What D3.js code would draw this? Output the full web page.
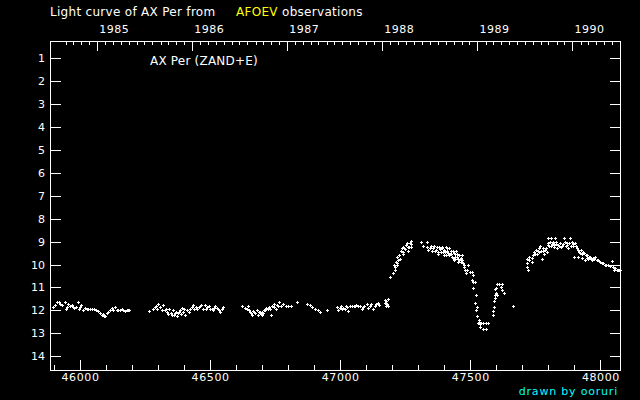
<!DOCTYPE html>
<html><head><meta charset="utf-8">
<script src="https://cdn.jsdelivr.net/npm/d3@7"></script>
<style>html,body{margin:0;padding:0;background:#000;} svg{display:block;}</style>
</head><body><svg id="c" width="640" height="400"></svg>
<script>
const titleParts = ["Light curve of AX Per from", "AFOEV", "observations"];
const starLabel = "AX Per (ZAND+E)";
const credit = "drawn by ooruri";
const jdTicks = [46000, 46500, 47000, 47500, 48000];
const magTicks = [1,2,3,4,5,6,7,8,9,10,11,12,13,14];
const years = [1985,1986,1987,1988,1989,1990];
// [JD-2400000, visual magnitude]
const observations = [
[45897,11.85],[45910,11.63],[45920,11.63],[45930,11.77],[45942,11.63],[45946,11.92],[45955,11.70],[45968,11.77],[45974,11.85],[45985,11.85],
[45994,11.63],[45997,11.92],[46003,11.77],[46010,11.99],[46019,11.89],[46032,11.95],[46038,11.92],[46045,11.95],[46054,11.95],[46070,12.03],
[46077,12.13],[46083,12.21],[46096,12.24],[46103,12.13],[46109,12.06],[46115,11.99],[46122,11.89],[46135,11.85],[46141,11.99],[46154,11.99],
[46166,11.99],[46179,11.99],[46189,11.99],
[45905,11.77],[45925,11.70],[45950,11.85],[45960,11.80],[45978,11.90],[46000,11.85],[46025,11.92],[46060,11.99],[46088,12.15],[46092,12.25],
[46126,12.00],[46147,11.99],[46160,11.95],[46172,12.01],[46184,11.99],
[46266,12.03],[46282,11.92],[46292,11.80],[46301,11.70],[46307,11.85],[46314,11.99],[46320,11.77],[46330,11.92],[46336,12.06],[46343,11.92],
[46348,12.13],[46356,11.99],[46361,12.21],[46369,12.06],[46378,12.13],[46384,11.99],[46391,11.89],[46397,12.06],[46404,12.21],[46412,11.99],
[46423,11.92],[46429,11.85],[46435,11.77],[46446,11.85],[46451,11.92],[46461,11.80],[46471,11.92],[46480,11.77],[46489,11.85],[46497,11.80],
[46506,11.92],[46512,11.99],[46519,11.80],[46525,11.89],[46531,11.92],[46538,12.06],[46545,11.92],[46551,11.85],
[46288,11.85],[46296,11.95],[46325,12.00],[46340,12.15],[46352,12.20],[46365,12.10],[46374,12.25],[46380,12.05],[46388,12.15],[46400,11.95],
[46418,12.05],[46440,11.95],[46456,11.85],[46466,11.75],[46485,11.92],[46500,11.95],[46515,11.90],[46535,11.99],
[46621,11.80],[46634,11.89],[46644,11.80],[46649,11.99],[46657,12.13],[46666,12.03],[46673,12.13],[46679,11.99],[46685,12.18],[46692,12.09],
[46698,12.21],[46704,12.13],[46708,11.99],[46714,11.89],[46721,11.92],[46730,11.95],[46734,12.18],[46739,11.80],[46747,11.70],[46752,11.92],
[46760,11.80],[46765,11.63],[46772,11.80],[46781,11.74],[46791,11.80],[46801,11.80],[46811,11.80],[46833,11.63],
[46640,11.95],[46653,12.05],[46662,12.20],[46670,12.05],[46688,12.05],[46695,12.15],[46700,12.05],[46711,12.00],[46725,11.85],[46744,11.85],[46756,11.75],
[46871,11.70],[46884,11.77],[46893,11.85],[46903,11.92],[46916,11.99],[46922,12.06],[46948,11.99],
[46986,11.85],[46993,11.99],[47003,11.80],[47012,11.89],[47018,11.95],[47025,11.85],[47031,12.03],[47038,11.80],[47047,11.80],[47057,11.80],
[47067,11.80],[47076,11.80],[47083,11.95],[47093,11.80],[47102,11.74],[47108,11.89],[47118,11.70],[47127,11.95],[47134,11.80],[47144,11.66],
[47172,11.55],[47179,11.70],[47183,11.80],
[46998,11.90],[47008,11.95],[47022,11.80],[47052,11.82],[47062,11.78],[47088,11.85],[47113,11.80],[47139,11.72],[47150,11.75],[47176,11.60],
[47176,11.82],[47185,11.52],[47172,11.67],
[47191,10.56],[47204,10.36],[47211,10.24],[47207,10.03],[47217,10.03],[47214,9.88],[47223,9.81],[47217,9.66],[47227,9.59],[47232,9.40],
[47236,9.30],[47243,9.22],[47249,9.34],[47253,9.15],[47256,9.05],[47265,9.22],[47271,9.11],[47274,8.96],[47274,9.22],[47262,9.40],
[47243,9.52],[47230,9.74],[47209,10.10],[47220,9.95],[47240,9.45],[47246,9.30],[47259,9.25],[47268,9.05],
[47309,9.03],[47332,9.03],[47336,9.37],[47332,9.25],[47318,9.18],
[47358,9.30],[47364,9.40],[47371,9.25],[47377,9.52],[47384,9.34],[47390,9.22],[47394,9.45],[47399,9.59],[47407,9.25],[47412,9.40],
[47419,9.30],[47422,9.52],[47429,9.66],[47432,9.40],[47437,9.81],[47441,9.55],[47445,9.40],[47450,9.66],[47454,9.88],[47461,9.74],
[47467,9.59],[47471,9.95],[47476,10.10],[47480,10.24],[47484,10.39],[47488,10.24],[47492,10.03],[47499,10.32],[47505,10.32],[47509,10.46],
[47345,9.30],[47350,9.20],[47352,9.40],[47360,9.20],[47367,9.35],[47374,9.45],[47380,9.25],[47386,9.45],[47392,9.30],[47397,9.35],
[47403,9.45],[47405,9.60],[47410,9.30],[47415,9.50],[47418,9.60],[47425,9.40],[47427,9.55],[47433,9.70],[47436,9.50],[47440,9.65],
[47443,9.75],[47447,9.55],[47452,9.75],[47456,9.60],[47458,9.80],[47463,9.90],[47465,9.70],[47470,9.80],[47474,10.00],
[47505,10.68],[47511,10.76],[47518,10.76],[47509,11.04],[47522,11.34],[47518,11.67],[47524,11.85],[47522,11.99],[47527,12.25],[47535,12.43],
[47531,12.55],[47540,12.55],[47550,12.55],[47560,12.55],[47569,12.55],[47537,12.72],[47547,12.79],[47560,12.83],[47533,12.50],[47538,12.60],
[47588,12.21],[47588,12.03],[47591,11.85],[47595,11.34],[47596,11.45],[47599,11.26],[47601,11.34],[47599,11.04],[47601,10.83],[47611,10.83],
[47620,10.83],[47617,10.98],[47620,11.12],[47629,11.26],[47665,11.82],[47595,11.05],[47590,11.60],
[47716,9.74],[47719,9.95],[47719,10.10],[47722,10.24],[47727,9.66],[47736,9.70],[47736,9.88],[47745,9.45],[47753,9.37],[47757,9.52],
[47763,9.30],[47768,9.18],[47771,9.41],[47774,9.74],[47778,9.30],[47783,9.52],[47787,9.37],[47793,9.45],[47797,8.86],[47799,9.15],
[47806,9.01],[47809,9.18],[47812,8.86],[47819,9.08],[47821,9.22],[47825,8.86],[47829,9.01],[47834,9.30],[47838,9.15],[47845,9.08],
[47851,9.18],[47860,8.86],[47864,9.01],[47868,9.18],[47873,9.08],[47877,9.30],[47883,8.86],[47890,9.01],[47896,9.18],[47900,9.66],
[47903,9.08],[47909,9.30],[47915,9.66],[47919,9.45],[47924,9.37],[47928,9.70],[47934,9.45],[47941,9.81],[47947,9.59],[47953,9.74],
[47960,9.66],[47966,9.81],[47979,9.66],[47985,9.81],[47996,9.86],[48005,9.95],[48017,10.03],[48030,10.03],[48043,9.86],[48047,10.10],
[48052,10.24],[48062,10.24],[48072,10.24],
[47725,9.80],[47740,9.60],[47748,9.55],[47760,9.40],[47765,9.45],[47780,9.40],[47790,9.30],[47800,9.05],[47803,9.20],[47815,9.10],
[47818,9.00],[47823,9.15],[47830,9.10],[47841,9.20],[47848,9.25],[47855,9.10],[47870,9.15],[47880,9.05],[47886,9.20],[47893,9.10],
[47906,9.20],[47912,9.35],[47921,9.50],[47931,9.55],[47937,9.50],[47944,9.60],[47950,9.70],[47957,9.65],[47962,9.75],[47970,9.70],
[47975,9.75],[47990,9.80],[48000,9.90],[48010,9.95],[48023,10.00],[48036,10.05],[48058,10.15],[48068,10.25],[48075,10.25]
];

const L = 50, R = 620, T = 41, B = 370;
const FONT = "DejaVu Sans";
const svg = d3.select("#c");
svg.append("rect").attr("width", 640).attr("height", 400).attr("fill", "#000");

const x = d3.scaleLinear().domain([45884.7, 48075.3]).range([L, R]);
const y = d3.scaleLinear().domain([0.25, 14.6]).range([T, B]);

const jdOf = d => d.getTime() / 86400000 + 40587.5;

function styleAxis(g) {
  g.select(".domain").remove();
  g.selectAll("line").attr("stroke", "#fff").attr("shape-rendering", "crispEdges");
  g.selectAll("text").attr("fill", "#fff").attr("font-family", FONT).attr("font-size", 11);
}

// Left axis with labels
svg.append("g").attr("transform", `translate(${L},0)`)
  .call(d3.axisLeft(y).tickValues(magTicks).tickSize(-11).tickPadding(5).tickFormat(d3.format("d")))
  .call(styleAxis);
// Right axis
svg.append("g").attr("transform", `translate(${R},0)`)
  .call(d3.axisRight(y).tickValues(magTicks).tickSize(-10).tickFormat(""))
  .call(styleAxis);
// Bottom minor
const minorJD = d3.range(45900, 48100, 100).filter(v => v % 500 !== 0 && v >= x.domain()[0] && v <= x.domain()[1]);
svg.append("g").attr("transform", `translate(0,${B})`)
  .call(d3.axisBottom(x).tickValues(minorJD).tickSize(-5).tickFormat(""))
  .call(styleAxis);
// Bottom major
svg.append("g").attr("transform", `translate(0,${B})`)
  .call(d3.axisBottom(x).tickValues(jdTicks).tickSize(-10).tickPadding(3).tickFormat(d3.format("d")))
  .call(styleAxis)
  .selectAll("text").attr("letter-spacing", 0.6);
// Top axis: months and years
const months = d3.utcMonth.range(new Date(Date.UTC(1984, 8, 1)), new Date(Date.UTC(1990, 6, 1)))
  .map(jdOf).filter(v => v > x.domain()[0] && v < x.domain()[1]);
const yearJD = years.map(yr => jdOf(new Date(Date.UTC(yr, 0, 1))));
svg.append("g").attr("transform", `translate(0,${T})`)
  .call(d3.axisTop(x).tickValues(months).tickSize(-4).tickFormat(""))
  .call(styleAxis);
svg.append("g").attr("transform", `translate(0,${T})`)
  .call(d3.axisTop(x).tickValues(yearJD).tickSize(-10).tickFormat(""))
  .call(styleAxis);
svg.append("g").selectAll("text").data(years).join("text")
  .attr("x", (d, i) => x(yearJD[i]) + 2).attr("y", 33)
  .attr("fill", "#fff").attr("font-family", FONT).attr("font-size", 11)
  .attr("letter-spacing", 0.5)
  .text(d => d);

// Frame
svg.append("rect").attr("x", L + 0.5).attr("y", T + 0.5).attr("width", R - L).attr("height", B - T)
  .attr("fill", "none").attr("stroke", "#fff").attr("shape-rendering", "crispEdges");

// Observations as small crosses
const crossPath = observations.map(([jd, m]) => {
  const px = Math.round(x(jd)), py = Math.round(y(m));
  return `M${px - 1},${py}h3v1h-3zM${px},${py - 1}h1v3h-1z`;
}).join("");
svg.append("path").attr("d", crossPath).attr("fill", "#fff").attr("shape-rendering", "crispEdges");

// Texts
const title = svg.append("text").attr("y", 16).attr("font-family", FONT).attr("font-size", 12)
  .attr("letter-spacing", 0.3).attr("fill", "#fff");
title.append("tspan").attr("x", 50).text(titleParts[0]);
title.append("tspan").attr("x", 236).attr("fill", "#ffff00").text(titleParts[1]);
title.append("tspan").attr("x", 282).text(titleParts[2]);

svg.append("text").attr("x", 150).attr("y", 65).attr("font-family", FONT).attr("font-size", 12)
  .attr("letter-spacing", 0.2).attr("fill", "#fff").text(starLabel);
svg.append("text").attr("x", 618).attr("y", 395).attr("text-anchor", "end").attr("font-family", FONT)
  .attr("font-size", 11).attr("letter-spacing", 0.8).attr("fill", "#00ffff").text(credit);
</script></body></html>
